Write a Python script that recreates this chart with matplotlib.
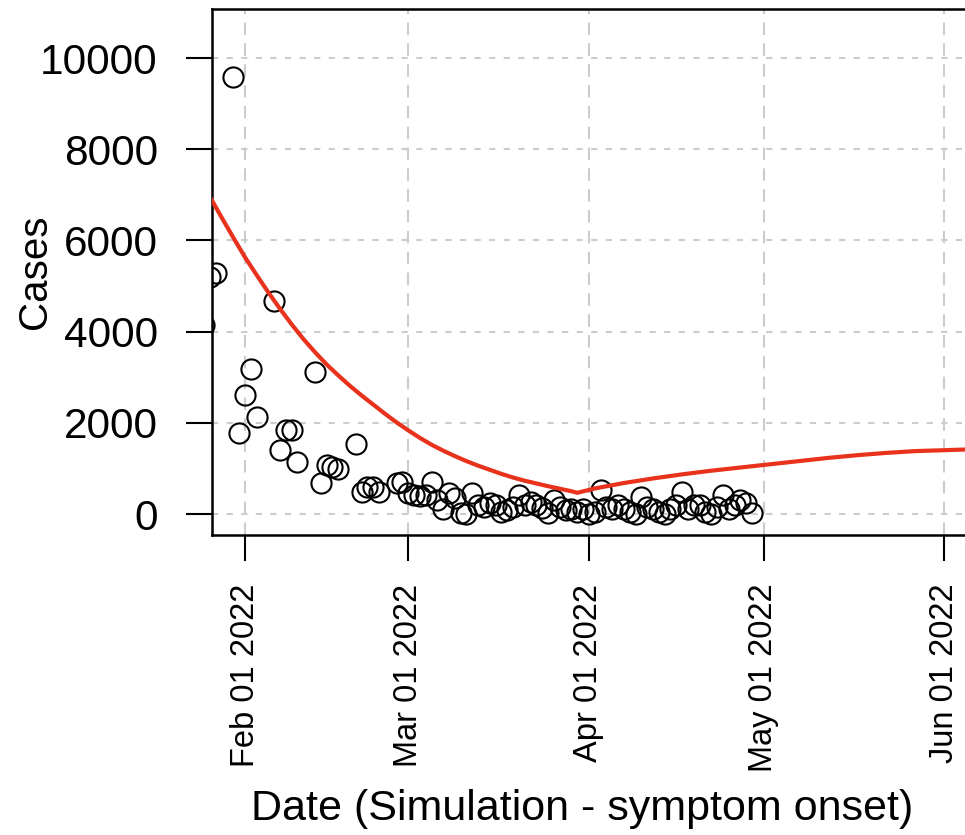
import matplotlib
matplotlib.use("Agg")
import matplotlib.pyplot as plt
import matplotlib.dates as mdates
import pandas as pd

plt.rcParams['font.family'] = ['Liberation Sans', 'DejaVu Sans']

# observed daily cases (circles)
obs_dates = ["2022-01-25", "2022-01-26", "2022-01-27", "2022-01-30", "2022-01-31",
             "2022-02-01", "2022-02-02", "2022-02-03", "2022-02-06", "2022-02-07",
             "2022-02-08", "2022-02-09", "2022-02-10", "2022-02-13", "2022-02-14",
             "2022-02-15", "2022-02-16", "2022-02-17", "2022-02-20", "2022-02-21",
             "2022-02-22", "2022-02-23", "2022-02-24", "2022-02-27", "2022-02-28",
             "2022-03-01", "2022-03-02", "2022-03-03", "2022-03-04", "2022-03-05",
             "2022-03-06", "2022-03-07", "2022-03-08", "2022-03-09", "2022-03-10",
             "2022-03-11", "2022-03-12", "2022-03-13", "2022-03-14", "2022-03-15",
             "2022-03-16", "2022-03-17", "2022-03-18", "2022-03-19", "2022-03-20",
             "2022-03-21", "2022-03-22", "2022-03-23", "2022-03-24", "2022-03-25",
             "2022-03-26", "2022-03-27", "2022-03-28", "2022-03-29", "2022-03-30",
             "2022-03-31", "2022-04-01", "2022-04-02", "2022-04-03", "2022-04-04",
             "2022-04-05", "2022-04-06", "2022-04-07", "2022-04-08", "2022-04-09",
             "2022-04-10", "2022-04-11", "2022-04-12", "2022-04-13", "2022-04-14",
             "2022-04-15", "2022-04-16", "2022-04-17", "2022-04-18", "2022-04-19",
             "2022-04-20", "2022-04-21", "2022-04-22", "2022-04-23", "2022-04-24",
             "2022-04-25", "2022-04-26", "2022-04-27", "2022-04-28", "2022-04-29"]
obs_cases = [4150, 5200, 5280, 9580, 1780,
             2610, 3180, 2130, 4670, 1400,
             1840, 1840, 1140, 3110, 680,
             1070, 1030, 990, 1540, 480,
             590, 600, 480, 680, 700,
             460, 420, 400, 420, 700,
             300, 120, 460, 350, 20,
             0, 460, 200, 150, 240,
             200, 50, 90, 150, 420,
             200, 260, 200, 130, 20,
             300, 150, 80, 100, 50,
             100, 0, 50, 520, 150,
             100, 200, 120, 50, 0,
             370, 150, 100, 50, 0,
             100, 200, 480, 100, 200,
             200, 50, 0, 150, 420,
             100, 200, 300, 250, 20]

# simulated curve (red line)
sim_dates = ["2022-01-26", "2022-01-28", "2022-01-30", "2022-02-01", "2022-02-03",
             "2022-02-05", "2022-02-07", "2022-02-09", "2022-02-11", "2022-02-13",
             "2022-02-15", "2022-02-17", "2022-02-19", "2022-02-21", "2022-02-23",
             "2022-02-25", "2022-02-27", "2022-03-01", "2022-03-03", "2022-03-05",
             "2022-03-07", "2022-03-09", "2022-03-11", "2022-03-13", "2022-03-15",
             "2022-03-17", "2022-03-19", "2022-03-21", "2022-03-23", "2022-03-25",
             "2022-03-27", "2022-03-29", "2022-03-30", "2022-04-02", "2022-04-07",
             "2022-04-12", "2022-04-17", "2022-04-22", "2022-04-27", "2022-05-02",
             "2022-05-07", "2022-05-12", "2022-05-17", "2022-05-22", "2022-05-27",
             "2022-06-01", "2022-06-06"]
sim_cases = [6950, 6500, 6060, 5630, 5240,
             4860, 4500, 4160, 3840, 3550,
             3280, 3040, 2810, 2600, 2400,
             2200, 2010, 1835, 1670, 1520,
             1390, 1270, 1160, 1060, 970,
             880, 800, 730, 670, 610,
             555, 500, 465, 560, 680,
             780, 870, 950, 1020, 1090,
             1160, 1230, 1290, 1340, 1380,
             1400, 1420]

x_ticks = ["2022-02-01", "2022-03-01", "2022-04-01", "2022-05-01", "2022-06-01"]
y_ticks = [0, 2000, 4000, 6000, 8000, 10000]

obs_x = pd.to_datetime(obs_dates)
sim_x = pd.to_datetime(sim_dates)

fig = plt.figure(figsize=(9.65, 8.35), dpi=100)
ax = fig.add_axes([212 / 965, 300 / 835, 763 / 965, 526 / 835])

ax.plot(obs_x, obs_cases, 'o', mfc='none', mec='black', ms=14.5, mew=1.5, zorder=3)
ax.plot(sim_x, sim_cases, '-', color='#e8321c', lw=3, zorder=4,
        solid_joinstyle='round')

ax.set_xlim(pd.Timestamp("2022-01-26 08:00"), pd.Timestamp("2022-06-06 06:00"))
ax.set_ylim(-460, 11075)

ax.set_xticks(pd.to_datetime(x_ticks))
ax.xaxis.set_major_formatter(mdates.DateFormatter("%b %d %Y"))
ax.set_yticks(y_ticks)

# dashed grey grid
ax.grid(True, axis='x', color='#cccccc', linestyle=(0, (6, 4)), lw=1.5)
ax.grid(True, axis='y', color='#cccccc', linestyle=(0, (3, 4)), lw=1.5)
ax.set_axisbelow(True)

ax.tick_params(axis='y', labelsize=30.5, length=19, width=1.5, pad=20)
ax.tick_params(axis='x', labelsize=23.5, length=19, width=1.5, pad=16, labelrotation=90)

for s in ax.spines.values():
    s.set_linewidth(1.8)

ax.set_ylabel("Cases", fontsize=29)
ax.yaxis.set_label_coords(-0.207, 0.5)
ax.set_xlabel("Date (Simulation - symptom onset)", fontsize=31, labelpad=12)
ax.xaxis.label.set_x(0.485)

fig.savefig("out.png", dpi=100)
